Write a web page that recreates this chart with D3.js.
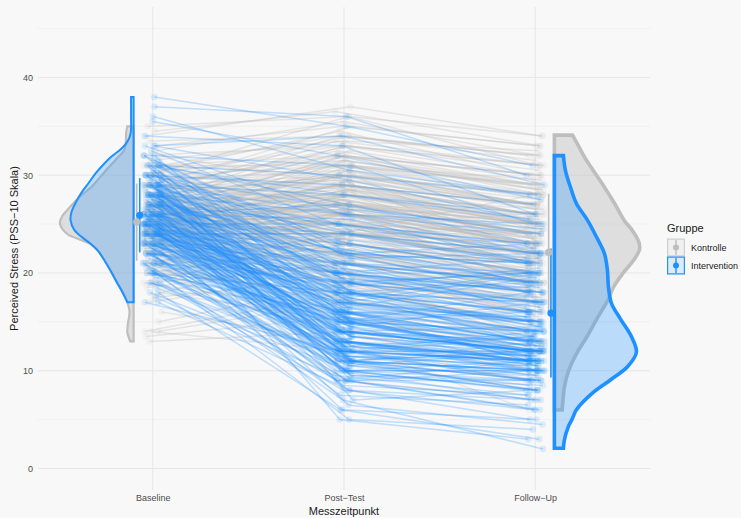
<!DOCTYPE html>
<html>
<head>
<meta charset="utf-8">
<script src="https://cdn.jsdelivr.net/npm/d3@7"></script>
<style>
  body { margin: 0; background: #F8F8F8; }
  svg { display: block; }
  text { font-family: "Liberation Sans", Arial, Helvetica, sans-serif; }
</style>
</head>
<body>
<svg id="chart" width="741" height="518"></svg>
<script>
// ---- categories & ticks ----
const timepoints = ["Baseline", "Post\u2212Test", "Follow\u2212Up"];
const groups = ["Kontrolle", "Intervention"];
const yTicks = [0, 10, 20, 30, 40];
const yMinorTicks = [5, 15, 25, 35, 45];

// ---- PSS-10 scores per participant (same index = same person) ----
const kontrolleBaseline = [
  13,14,14,15,16,17,18,18,19,19, 19,20,20,20,20,21,21,21,21,21,
  21,22,22,22,22,22,22,23,23,23, 23,23,23,23,23,23,24,24,24,24,
  24,24,24,24,24,24,24,24,24,25, 25,25,25,25,25,25,25,25,25,25,
  25,25,25,26,26,26,26,26,26,26, 26,26,26,26,26,26,27,27,27,27,
  27,27,27,27,27,27,27,28,28,28, 28,28,28,28,28,28,28,29,29,29,
  29,29,29,29,29,30,30,30,30,30, 30,31,31,31,31,32,32,33,34,35,
  22.5,24.5,26.5,20.5,25.5,23.5,27.5,24,25,26, 21.5,28.5,23,24.5,26.5,22,29.5,25.5,19.5,27,
  24,30.5,23.5,26,25,13.5,14,28,24.5,22.5, 26.5,31.5,25.5,23,27.5,21,24,29,26,25,
  18.5,24.5,27,23.5,25.5,32.5,26.5,22,28.5,24, 25,30,23,26,20,27.5,24.5,25.5,34.5,21.5,
  26.5,23.5,28,25,22.5,27,24,29.5,25.5,17.5, 26,23,24.5,27.5,25,22,30.5,26.5,24,28.5,
  25.5,23.5,33.5,21,26,24.5,27,25,29,22.5, 26.5,24,31,25.5,23,27.5,20.5,28,24.5,26];
const kontrollePost = [
  14,12,17,19,13,20,15,22,16,21, 24,18,14,23,19,17,24,20,26,9,
  22,19,25,21,16,27,23,20,24,18, 28,22,25,13,26,21,23,27,19,25,
  30,22,17,24,28,21,26,15,24,22, 27,24,29,20,25,31,23,18,26,21,
  28,11,24,25,29,22,27,19,24,32, 23,26,21,28,17,25,26,30,23,28,
  20,25,33,27,22,29,24,27,31,24, 29,21,26,34,28,23,30,28,32,25,
  30,22,27,35,29,29,33,26,31,24, 36,30,34,27,32,33,29,35,37,36,
  26,29.5,31,24,28.5,20.5,32.5,27.5,22.5,30.5, 25.5,33,26.5,18.5,29,23.5,34,27,22.5,25.5,
  30,31.5,24.5,21.5,29,15.5,18,30,23,28, 26.5,33.5,31,19.5,28,26.5,25,27.5,32,24.5,
  21,27,29.5,28.5,23.5,35.5,30,20,31,22, 26,28.5,27,24,23,33.5,29,20,36.5,19,
  27.5,22,32,27.5,24,31.5,28,30.5,25,19.5, 28,25,21,30,32,26,34.5,25,26,29.5,
  30.5,27,34,23.5,26.5,31.5,22,28.5,32.5,21.5, 28.5,24,31,26.5,29.5,26,17.5,27,25.5,29];
const kontrolleFollowUp = [
  11,9,15,13,6,16,12,19,14,17, 22,15,10,20,16,13,21,18,23,7,
  19,14,24,17,12,25,20,16,22,15, 26,21,19,11,23,18,22,24,17,21,
  27,20,14,23,25,19,22,13,28,18, 23,21,26,16,24,29,20,15,22,19,
  25,8,23,21,27,19,24,17,23,30, 20,25,18,22,16,26,23,28,21,24,
  17,22,31,25,20,27,24,24,29,22, 26,19,23,32,25,21,28,25,30,22,
  27,18,24,33,26,27,31,23,28,21, 34,28,32,24,29,30,26,33,34,31,
  24,26.5,28,21.5,25,19,29.5,23.5,21,27, 22,30.5,20.5,16.5,24.5,25.5,31.5,22.5,18,23,
  27.5,28.5,21,19.5,26,12.5,16,26.5,20,24.5, 23.5,32.5,29,17.5,25.5,23,22,24,30,18.5,
  20,26,27,25,21.5,32,22,17,27.5,20.5, 23.5,26,21,24.5,19.5,31,23,15.5,33,14.5,
  25,22.5,28.5,24,18.5,29,25.5,27,20,14, 26.5,23,17.5,26,28,21.5,30,22,24.5,21.5,
  27,25,32,20.5,19,28.5,18,25.5,29,16, 24,21,29.5,26,27,23.5,13.5,22.5,19,25];

const interventionBaseline = [
  17,17,18,18,19,19,19,20,20,20, 20,20,21,21,21,21,21,21,22,22,
  22,22,22,22,22,23,23,23,23,23, 23,23,23,23,24,24,24,24,24,24,
  24,24,24,24,24,25,25,25,25,25, 25,25,25,25,25,25,26,26,26,26,
  26,26,26,26,26,26,26,26,27,27, 27,27,27,27,27,27,27,28,28,28,
  28,28,28,28,28,28,28,28,28,29, 29,29,29,29,29,29,29,29,30,30,
  30,30,30,30,30,31,31,31,31,31, 31,32,32,32,32,33,33,34,37,38,
  24.5,26.5,22.5,28.5,25.5,23.5,27.5,30.5,21.5,25, 26,24,29.5,20.5,27,23,31.5,25.5,28,22,
  26.5,24.5,19.5,30,25,27.5,23.5,29,26,18.5, 24,28.5,25.5,32.5,22.5,26.5,27,24.5,21,30.5,
  25,28,23,26,24,29.5,20,27.5,25.5,31, 22,26.5,24.5,28.5,23.5,27,25,19,30,26,
  24,28,21.5,25.5,27.5,23,29,35.5,26.5,24.5, 17.5,28,25,22.5,30.5,26,24,27,25.5,23.5,
  29.5,21,26.5,28.5,24.5,31.5,25,27.5,22,33, 26,24,28,23,29,25.5,20.5,27,36,24.5];
const interventionPost = [
  8,12,6,10,9,14,11,7,13,16, 10,18,12,9,15,11,19,5,13,10,
  17,12,20,14,8,15,11,18,13,21, 9,16,12,6,14,19,11,16,22,13,
  10,17,24,12,15,15,11,18,13,21, 9,16,25,12,19,14,16,12,20,14,
  23,10,17,27,13,18,11,15,17,13, 21,15,25,11,19,14,22,9,16,18,
  14,22,16,26,12,20,15,24,5,19, 15,23,17,28,13,21,11,26,20,16,
  24,12,29,18,7,22,17,27,14,30, 20,23,18,31,15,34,26,33,36,35,
  14.5,17.5,11.5,19.5,12.5,16.5,10.5,21.5,13.5,18.5, 9.5,15.5,23.5,10,14,19,18,11,16.5,7.5,
  20.5,12,15,26.5,13,17,9,21,14.5,11.5, 20,12.5,16,24.5,13.5,8.5,18.5,22.5,12,15.5,
  10.5,20,14,25.5,11,17.5,15.5,13,19,28, 10,15,17,11.5,21,12.5,16.5,8,19.5,13.5,
  18,14.5,16,9.5,22,12,15.5,32,11,20.5, 9.5,18,14,17.5,13,21.5,10.5,16,24,13,
  19,14.5,12.5,25,6.5,22.5,15,11.5,18.5,29.5, 16.5,13.5,10,20,12,17.5,11,23,30.5,15.5];
const interventionFollowUp = [
  5,9,3,11,7,12,8,2,10,15, 9,17,11,6,13,12,20,4,10,8,
  14,11,18,12,7,13,10,16,12,19, 9,11,14,5,12,17,10,13,21,11,
  8,15,22,12,18,12,9,16,11,19, 6,14,23,10,20,13,13,11,18,12,
  21,7,15,24,10,19,12,14,14,11, 20,12,22,8,17,13,23,10,16,15,
  12,21,13,25,9,18,11,22,3,16, 12,20,14,26,11,19,10,24,17,13,
  21,11,27,15,8,18,15,23,12,28, 20,19,16,25,14,29,22,26,30,31,
  12.5,13,10.5,17,11.5,15,9.5,18.5,12,20.5, 8.5,11,21.5,10,14.5,17.5,12.5,9,19.5,6.5,
  16.5,13.5,11.5,24.5,10.5,15.5,11,18,12,10.5, 21.5,11.5,14,22.5,11,7.5,16,19.5,9.5,13,
  12,17.5,12.5,21,10,14.5,13.5,11,18.5,25.5, 8,12,20,9.5,16,13.5,14,6,16.5,11.5,
  17,10.5,15.5,9,19,12,12.5,27.5,13,18, 7.5,14.5,12,20,10.5,22,8.5,12.5,21,11.5,
  15.5,17,10,23,4.5,19,16,11,14,25, 13.5,12,10,18.5,11,15,9,20,28,11.5];

// ---- density estimates [score, density] for the half violins ----
const densityBaselineKontrolle = [
  [13.0,.004],[13.5,.006],[13.9,.0073],[14.5,.007],[15.0,.0063],[16.0,.0047],
  [17.0,.0073],[18.0,.0123],[19.0,.019],[20.1,.0257],[21.0,.032],[22.0,.039],
  [22.9,.049],[23.4,.062],[23.9,.0757],[24.4,.082],[25.1,.0857],[25.8,.083],
  [26.45,.077],[27.5,.0657],[28.2,.0573],[28.8,.049],[29.8,.039],[30.8,.029],
  [31.9,.0173],[32.6,.0107],[33.5,.009],[34.3,.0087],[35.0,.0073]];
const densityBaselineIntervention = [
  [17.0,.0073],[17.9,.0123],[18.95,.019],[20.3,.0273],[21.3,.034],[22.35,.0423],
  [23.04,.0507],[23.7,.0607],[24.4,.069],[25.4,.0733],[26.2,.0723],[27.2,.0673],
  [28.2,.0607],[29.2,.0523],[30.2,.044],[31.2,.034],[31.9,.0257],[32.6,.0157],
  [33.2,.009],[33.9,.0047],[34.5,.0032],[36.0,.003],[38.0,.003]];
const densityFollowUpKontrolle = [
  [6.0,.009],[7.0,.010],[8.5,.012],[10.1,.017],[11.95,.027],[13.5,.038],
  [15.4,.050],[17.2,.062],[18.6,.069],[20.0,.080],[21.3,.092],[22.4,.099],
  [23.2,.098],[24.3,.091],[25.4,.081],[27.1,.070],[28.8,.058],[30.5,.045],
  [31.7,.036],[33.0,.028],[34.1,.021]];
const densityFollowUpIntervention = [
  [2.07,.0105],[2.9,.0116],[4.3,.0163],[5.1,.0209],[6.0,.0256],[7.7,.0442],
  [9.05,.0651],[10.4,.0849],[11.9,.0953],[13.5,.0895],[15.3,.0767],[16.9,.0663],
  [18.6,.0628],[20.3,.0616],[22.0,.0581],[23.7,.0488],[25.4,.0384],[27.1,.0256],
  [28.8,.0186],[30.5,.0128],[32.0,.0105]];

// ---- group means and standard deviations ----
const meanBaseline = [25.2, 25.9];
const sdBaseline   = [3.95, 3.8];
const meanFollowUp = [22.1, 15.9];
const sdFollowUp   = [6.0, 6.6];

// ---- colours ----
const groupColor = { Kontrolle: "#BEBEBE", Intervention: "#1E90FF" };
const lineOpacity = { Kontrolle: 0.34, Intervention: 0.26 };

// ---- layout ----
const svg = d3.select("#chart");
const panel = { left: 38, right: 650, top: 7, bottom: 490 };

const x = d3.scaleLinear().domain([0.4, 3.6]).range([panel.left, panel.right]);
const y = d3.scaleLinear().domain([-2.2, 47.2]).range([panel.bottom, panel.top]);
const dens = d3.scaleLinear().domain([0, 0.1]).range([0, 0.45]);

svg.append("rect").attr("width", 741).attr("height", 518).attr("fill", "#F8F8F8");

// grid
const grid = svg.append("g");
grid.selectAll(".minor").data(yMinorTicks).join("line")
  .attr("x1", panel.left).attr("x2", panel.right)
  .attr("y1", d => y(d)).attr("y2", d => y(d))
  .attr("stroke", "#EDEDED").attr("stroke-width", 0.8);
grid.selectAll(".major").data(yTicks).join("line")
  .attr("x1", panel.left).attr("x2", panel.right)
  .attr("y1", d => y(d)).attr("y2", d => y(d))
  .attr("stroke", "#E6E6E6").attr("stroke-width", 1);
grid.selectAll(".vert").data(timepoints).join("line")
  .attr("x1", (d, i) => x(i + 1)).attr("x2", (d, i) => x(i + 1))
  .attr("y1", panel.top).attr("y2", panel.bottom)
  .attr("stroke", "#E6E6E6").attr("stroke-width", 1);

// axes (labels only)
const yAxis = d3.axisLeft(y).tickValues(yTicks).tickSize(0).tickPadding(5);
svg.append("g").attr("transform", `translate(${panel.left},0)`).call(yAxis)
  .call(g => g.select(".domain").remove())
  .call(g => g.selectAll("text").attr("fill", "#4D4D4D").attr("font-size", 9)
    .attr("font-family", "Liberation Sans, Arial, sans-serif"));

const xAxis = d3.axisBottom(x).tickValues([1, 2, 3]).tickFormat(d => timepoints[d - 1]).tickSize(0).tickPadding(5);
svg.append("g").attr("transform", `translate(0,${panel.bottom})`).call(xAxis)
  .call(g => g.select(".domain").remove())
  .call(g => g.selectAll("text").attr("fill", "#4D4D4D").attr("font-size", 9)
    .attr("font-family", "Liberation Sans, Arial, sans-serif"));

svg.append("text").attr("x", x(2)).attr("y", 515).attr("text-anchor", "middle")
  .attr("font-size", 11).attr("fill", "#1A1A1A").text("Messzeitpunkt");
svg.append("text").attr("transform", `translate(18,${(panel.top + panel.bottom) / 2}) rotate(-90)`)
  .attr("text-anchor", "middle").attr("font-size", 11).attr("fill", "#1A1A1A")
  .text("Perceived Stress (PSS\u221210 Skala)");

// deterministic horizontal jitter for the individual points
function jitter(i, t, g) {
  const h = Math.abs(Math.imul(i * 31 + t * 7 + g * 101 + 17, 2654435761) ^ Math.imul(t + 3, 40503)) % 1000;
  return (h / 999 - 0.5) * 0.1;
}

function participants(base, post, fu, g) {
  return base.map((b, i) => [b, post[i], fu[i]].map((v, t) => ({ t: t + 1 + jitter(i, t, g), v })));
}
const people = [
  { group: "Kontrolle", rows: participants(kontrolleBaseline, kontrollePost, kontrolleFollowUp, 0) },
  { group: "Intervention", rows: participants(interventionBaseline, interventionPost, interventionFollowUp, 1) }
];

const line = d3.line().x(d => x(d.t)).y(d => y(d.v));
const spaghetti = svg.append("g");
people.forEach(p => {
  const g = spaghetti.append("g");
  g.selectAll("path").data(p.rows).join("path")
    .attr("d", line).attr("fill", "none")
    .attr("stroke", groupColor[p.group]).attr("stroke-width", 1.5)
    .attr("stroke-opacity", lineOpacity[p.group]);
  g.selectAll("circle").data(p.rows.flat()).join("circle")
    .attr("cx", d => x(d.t)).attr("cy", d => y(d.v)).attr("r", 3.3)
    .attr("fill", groupColor[p.group]).attr("fill-opacity", 0.13);
});

// half violins
function halfViolin(data, at, side, color, fillOpacity, strokeWidth) {
  const area = d3.area()
    .y(d => y(d[0]))
    .x0(x(at))
    .x1(d => x(at + side * dens(d[1])))
    .curve(d3.curveCatmullRom);
  svg.append("path").datum(data).attr("d", area)
    .attr("fill", color).attr("fill-opacity", fillOpacity)
    .attr("stroke", color).attr("stroke-width", strokeWidth)
    .attr("stroke-linejoin", "miter");
}
halfViolin(densityBaselineKontrolle, 0.9, -1, groupColor.Kontrolle, 0.45, 2.2);
halfViolin(densityBaselineIntervention, 0.9, -1, groupColor.Intervention, 0.26, 2);
halfViolin(densityFollowUpKontrolle, 3.1, 1, groupColor.Kontrolle, 0.45, 3.6);
halfViolin(densityFollowUpIntervention, 3.1, 1, groupColor.Intervention, 0.28, 3.6);

// mean ± SD
const summary = [];
groups.forEach((g, gi) => {
  summary.push({ g, at: 1 - 0.076 + (gi ? 0.008 : -0.008), m: meanBaseline[gi], s: sdBaseline[gi] });
  summary.push({ g, at: 3 + 0.076 + (gi ? 0.006 : -0.006), m: meanFollowUp[gi], s: sdFollowUp[gi] });
});
const sg = svg.append("g");
sg.selectAll("line").data(summary).join("line")
  .attr("x1", d => x(d.at)).attr("x2", d => x(d.at))
  .attr("y1", d => y(d.m - d.s)).attr("y2", d => y(d.m + d.s))
  .attr("stroke", d => groupColor[d.g]).attr("stroke-width", 1.6);
sg.selectAll("circle").data(summary).join("circle")
  .attr("cx", d => x(d.at)).attr("cy", d => y(d.m)).attr("r", 3.6)
  .attr("fill", d => groupColor[d.g]);

// legend
const lg = svg.append("g").attr("transform", "translate(667,0)");
lg.append("text").attr("x", 0).attr("y", 232).attr("font-size", 11).attr("fill", "#1A1A1A").text("Gruppe");
groups.forEach((g, i) => {
  const top = 238.5 + i * 18;
  const k = lg.append("g");
  k.append("rect").attr("x", 0.6).attr("y", top + 0.6).attr("width", 16.8).attr("height", 16.8)
    .attr("fill", groupColor[g]).attr("fill-opacity", 0.12)
    .attr("stroke", groupColor[g]).attr("stroke-opacity", g === "Kontrolle" ? 0.7 : 1).attr("stroke-width", 1.2);
  k.append("line").attr("x1", 9).attr("x2", 9).attr("y1", top + 1.5).attr("y2", top + 16.5)
    .attr("stroke", groupColor[g]).attr("stroke-width", 1.4);
  k.append("circle").attr("cx", 9).attr("cy", top + 9).attr("r", 3).attr("fill", groupColor[g]);
  k.append("text").attr("x", 24).attr("y", top + 12.2).attr("font-size", 9).attr("fill", "#1A1A1A").text(g);
});
</script>
</body>
</html>
